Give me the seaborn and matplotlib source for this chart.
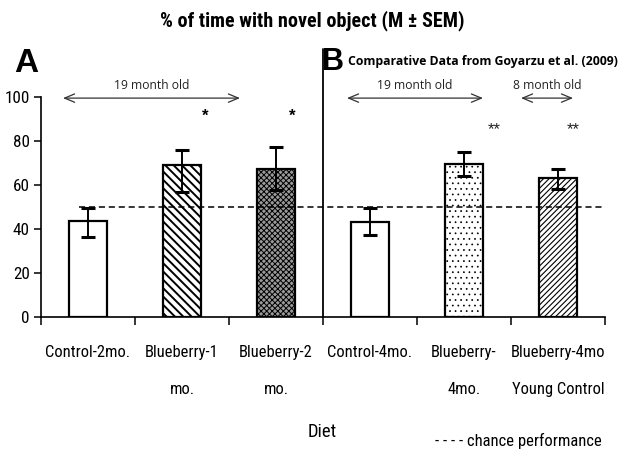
import matplotlib
matplotlib.use("Agg")
import matplotlib.pyplot as plt
from matplotlib import font_manager
import seaborn as sns
import pandas as pd

# ---------------- data ----------------
categories = ["Control-2mo.", "Blueberry-1\nmo.", "Blueberry-2\nmo.",
              "Control-4mo.", "Blueberry-\n4mo.", "Blueberry-4mo\nYoung Control"]
means = [43.6, 69.0, 67.2, 43.3, 69.6, 63.0]
err_lower = [7.2, 12.0, 9.5, 5.8, 5.6, 4.8]
err_upper = [6.1, 7.1, 9.9, 6.4, 5.5, 4.2]
chance = 50
yticks = [0, 20, 40, 60, 80, 100]
signif = ["", "*", "*", "", "**", "**"]

hatches = ["", "\\\\\\\\", "xxxxxx", "", "...", "//////"]
hatch_lw = [1.0, 1.4, 0.7, 1.0, 0.5, 0.8]
faces = ["white", "white", "#9a9a9a", "white", "white", "white"]

# ---------------- fonts ----------------
ttf = font_manager.fontManager.ttflist
names = {f.name for f in ttf}
NARROW, STRETCH = "Liberation Sans", "normal"
for cand in ["Liberation Sans Narrow", "Arial Narrow", "Roboto Condensed",
             "Open Sans Condensed", "Noto Sans Condensed", "DejaVu Sans Condensed"]:
    if cand in names:
        NARROW = cand
        break
else:
    for fam in ["Roboto", "Noto Sans", "Open Sans", "DejaVu Sans", "Liberation Sans"]:
        if any(f.name == fam and f.stretch in ("condensed", "semi-condensed", 87.5, 75)
               for f in ttf):
            NARROW, STRETCH = fam, "condensed"
            break
ARIAL = "Liberation Sans"
CAL = "Open Sans"

sns.set_theme(style="white")
plt.rcParams["font.family"] = [NARROW, "DejaVu Sans"]
plt.rcParams["hatch.linewidth"] = 1.2

fig = plt.figure(figsize=(6.25, 4.53), dpi=100)
renderer = fig.canvas.get_renderer()


def fit_size(s, target_px, family, weight="normal", stretch="normal", cap=None):
    t = fig.text(0, 0, s, fontsize=12, family=family, fontweight=weight,
                 fontstretch=stretch)
    w = t.get_window_extent(renderer).width
    t.remove()
    size = 12 * target_px / w
    if cap is not None:
        size = min(size, cap)
    return size


narrow_fam = [NARROW, "DejaVu Sans"]
tick_size = fit_size("Blueberry-4mo", 94, narrow_fam, stretch=STRETCH, cap=12.5)
ytick_size = fit_size("100", 25, narrow_fam, stretch=STRETCH, cap=13)

df = pd.DataFrame({"Diet": categories, "pct": means})

ax = fig.add_axes([41 / 625, 136 / 453, 564 / 625, 220 / 453])

sns.barplot(data=df, x="Diet", y="pct", ax=ax, color="white",
            edgecolor="black", linewidth=1.6, width=0.4, errorbar=None)

for p, h, fc, hl in zip(ax.patches, hatches, faces, hatch_lw):
    p.set_hatch(h)
    p.set_facecolor(fc)
    p.set_edgecolor("black")
    try:
        p.set_hatch_linewidth(hl)
    except AttributeError:
        p._hatch_linewidth = hl

xs = list(range(len(categories)))
ax.errorbar(xs, means, yerr=[err_lower, err_upper], fmt="none",
            ecolor="black", elinewidth=1.4, capsize=5, capthick=2.2, zorder=5)

ax.set_xlim(-0.5, 5.5)
ax.set_ylim(0, 100)
ax.set_yticks(yticks)
ax.set_xlabel("")
ax.set_ylabel("")

for s in ["top", "right"]:
    ax.spines[s].set_visible(False)
for s in ["left", "bottom"]:
    ax.spines[s].set_color("black")
    ax.spines[s].set_linewidth(1.2)

ax.tick_params(axis="y", which="major", direction="out", length=5, width=1.1,
               color="black", labelsize=ytick_size, pad=3, left=True)
ax.set_xticks([x - 0.5 for x in range(len(categories) + 1)], minor=True)
ax.tick_params(axis="x", which="minor", direction="out", length=6, width=1.1,
               color="black", bottom=True)
ax.tick_params(axis="x", which="major", length=0, labelsize=tick_size, pad=20)
size_px = tick_size * 100 / 72
for lab in ax.get_yticklabels():
    lab.set_color("black")
    lab.set_fontstretch(STRETCH)
for lab in ax.get_xticklabels():
    lab.set_linespacing(35 / (0.75 * size_px))
    lab.set_color("black")
    lab.set_fontstretch(STRETCH)
    lab.set_verticalalignment("top")

# chance line
ax.plot([-0.1, 5.5], [chance, chance], color="black", lw=1.1,
        linestyle=(0, (4, 2.5)), zorder=4)

# divider between panels
ax.plot([2.5, 2.5], [0, 122], color="black", lw=1.3, clip_on=False, zorder=6)

# age arrows
cal_fam = [CAL, "DejaVu Sans"]
age_size = fit_size("19 month old", 75, cal_fam)
arrow_kw = dict(arrowstyle="<->,head_length=0.6,head_width=0.25",
                color="#333333", lw=0.9, shrinkA=0, shrinkB=0)
for x0, x1, lab, y in [(-0.266, 1.617, "19 month old", 99.5),
                       (2.755, 4.202, "19 month old", 99.5),
                       (4.606, 5.16, "8 month old", 99.5)]:
    ax.annotate("", xy=(x1, y), xytext=(x0, y), arrowprops=arrow_kw,
                annotation_clip=False)
    ax.text((x0 + x1) / 2, y + 2.8, lab, ha="center", va="bottom",
            fontsize=age_size, family=cal_fam, color="#222222", clip_on=False)

# significance marks
offs = [0, 0.25, 0.17, 0, 0.32, 0.16]
ys = [0, 91.4, 91.4, 0, 85.0, 85.0]
for i, (s, o, yv) in enumerate(zip(signif, offs, ys)):
    if not s:
        continue
    if s == "*":
        ax.text(i + o, yv, s, ha="center", va="center", fontsize=12,
                fontweight="bold", family=[ARIAL, "DejaVu Sans"], color="black")
    else:
        ax.text(i + o, yv, "**", ha="center", va="center", fontsize=12,
                family=[ARIAL, "DejaVu Sans"], color="#222222")

# figure texts
title = "% of time with novel object (M \u00b1 SEM)"
title_size = fit_size(title, 305, narrow_fam, weight="bold", stretch=STRETCH, cap=17)
fig.text(312 / 625, 1 - 21 / 453, title, ha="center", va="center",
         fontsize=title_size, fontweight="bold", family=narrow_fam,
         fontstretch=STRETCH, color="black")
fig.text(14 / 625, 1 - 72 / 453, "A", ha="left", va="baseline", fontsize=24,
         fontweight="bold", family=[ARIAL, "DejaVu Sans"], color="black")
fig.text(322 / 625, 1 - 70 / 453, "B", ha="left", va="baseline", fontsize=22,
         fontweight="bold", family=[ARIAL, "DejaVu Sans"], color="black")
comp = "Comparative Data from Goyarzu et al. (2009)"
comp_size = fit_size(comp, 270, cal_fam, weight="bold")
fig.text(348 / 625, 1 - 62 / 453, comp, ha="left", va="center",
         fontsize=comp_size, fontweight="bold", family=cal_fam, color="black")
fig.text(322 / 625, 1 - 432 / 453, "Diet", ha="center", va="center",
         fontsize=fit_size("Diet", 29, narrow_fam, stretch=STRETCH, cap=14),
         family=narrow_fam, fontstretch=STRETCH, color="black")
chance_txt = "- - - - chance performance"
fig.text(435 / 625, 1 - 441 / 453, chance_txt, ha="left", va="center",
         fontsize=fit_size(chance_txt, 166, narrow_fam, stretch=STRETCH, cap=13),
         family=narrow_fam, fontstretch=STRETCH, color="black")

fig.savefig("out.png", dpi=100, facecolor="white")
